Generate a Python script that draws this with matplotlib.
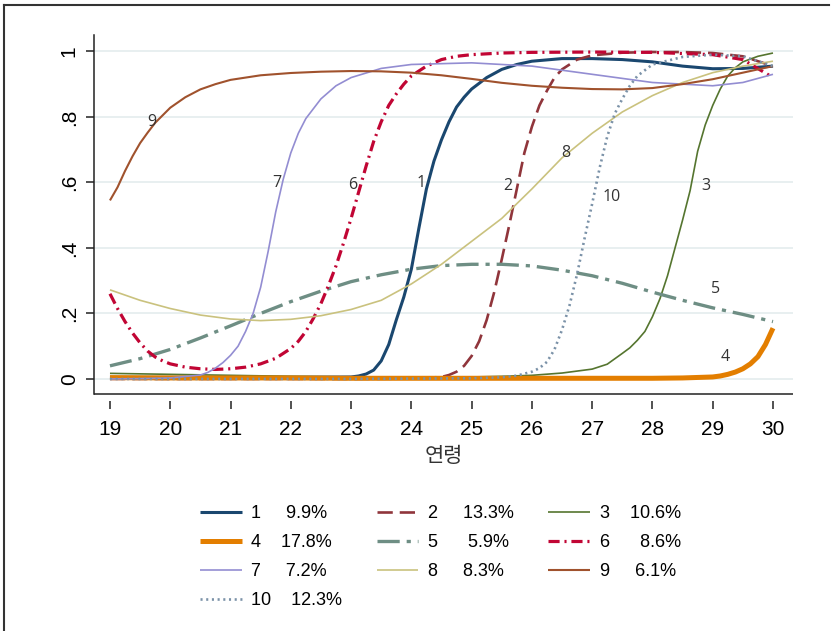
import matplotlib
matplotlib.use("Agg")
import matplotlib.pyplot as plt
from matplotlib.lines import Line2D

plt.rcParams['lines.scale_dashes'] = False

# class number, share (%) and data for each trajectory curve
classes = ["1", "2", "3", "4", "5", "6", "7", "8", "9", "10"]
shares = ["9.9%", "13.3%", "10.6%", "17.8%", "5.9%", "8.6%", "7.2%", "8.3%", "6.1%", "12.3%"]
label_gaps = [5, 5, 4, 4, 6, 6, 5, 5, 5, 4]

ages1 = [19, 20, 21, 22, 23, 23.125, 23.25, 23.375, 23.5, 23.625, 23.75, 23.875, 24, 24.125,
         24.25, 24.375, 24.5, 24.625, 24.75, 24.875, 25, 25.25, 25.5, 25.75, 26, 26.5, 27, 27.5,
         28, 28.5, 29, 29.5, 30]
prob1 = [0.005, 0.005, 0.005, 0.005, 0.006, 0.009, 0.015, 0.027, 0.055, 0.105, 0.18, 0.25, 0.335, 0.46,
         0.58, 0.665, 0.73, 0.785, 0.83, 0.86, 0.885, 0.92, 0.945, 0.96, 0.97, 0.978, 0.978, 0.975,
         0.968, 0.955, 0.947, 0.948, 0.955]

ages2 = [19, 20, 21, 22, 23, 24, 24.5, 24.625, 24.75, 24.875, 25, 25.125, 25.25, 25.375, 25.5,
         25.625, 25.75, 25.875, 26, 26.125, 26.25, 26.375, 26.5, 26.75, 27, 27.5, 28, 28.5, 29,
         29.5, 30]
prob2 = [0.0, 0.0, 0.0, 0.0, 0.0, 0.001, 0.006, 0.012, 0.022, 0.04, 0.07, 0.115, 0.18, 0.265, 0.365,
         0.47, 0.58, 0.69, 0.77, 0.835, 0.88, 0.92, 0.945, 0.975, 0.988, 0.996, 0.998, 0.998, 0.995,
         0.985, 0.955]

ages3 = [19, 20, 21, 22, 23, 24, 25, 25.5, 26, 26.5, 27, 27.25, 27.5, 27.625, 27.75, 27.875, 28,
         28.125, 28.25, 28.375, 28.5, 28.625, 28.75, 28.875, 29, 29.125, 29.25, 29.375, 29.5,
         29.75, 30]
prob3 = [0.017, 0.014, 0.011, 0.008, 0.006, 0.005, 0.006, 0.008, 0.011, 0.018, 0.03, 0.045, 0.078, 0.095,
         0.118, 0.145, 0.19, 0.245, 0.315, 0.4, 0.485, 0.575, 0.695, 0.775, 0.835, 0.885, 0.925, 0.95,
         0.968, 0.985, 0.995]

ages4 = [19, 20, 21, 22, 23, 24, 25, 26, 27, 28, 28.5, 29, 29.125, 29.25, 29.375, 29.5, 29.625,
         29.75, 29.875, 30]
prob4 = [0.004, 0.003, 0.003, 0.003, 0.002, 0.002, 0.002, 0.002, 0.002, 0.002, 0.003, 0.006, 0.009,
         0.014, 0.021, 0.031, 0.046, 0.068, 0.105, 0.155]

ages5 = [19, 19.5, 20, 20.5, 21, 21.5, 22, 22.5, 23, 23.5, 24, 24.5, 25, 25.5, 26, 26.5, 27,
         27.5, 28, 28.5, 29, 29.5, 30]
prob5 = [0.04, 0.062, 0.09, 0.125, 0.162, 0.2, 0.236, 0.268, 0.297, 0.318, 0.335, 0.346, 0.35, 0.35,
         0.345, 0.332, 0.315, 0.292, 0.265, 0.24, 0.217, 0.197, 0.175]

ages6 = [19, 19.125, 19.25, 19.375, 19.5, 19.625, 19.75, 19.875, 20, 20.25, 20.5, 20.75, 21,
         21.25, 21.5, 21.75, 22, 22.125, 22.25, 22.375, 22.5, 22.625, 22.75, 22.875, 23, 23.125,
         23.25, 23.375, 23.5, 23.625, 23.75, 23.875, 24, 24.25, 24.5, 24.75, 25, 25.5, 26, 27, 28,
         29, 29.5, 30]
prob6 = [0.26, 0.215, 0.175, 0.14, 0.11, 0.085, 0.067, 0.055, 0.046, 0.036, 0.031, 0.029, 0.031,
         0.036, 0.046, 0.063, 0.093, 0.115, 0.145, 0.185, 0.23, 0.285, 0.345, 0.415, 0.49, 0.57,
         0.65, 0.725, 0.785, 0.835, 0.87, 0.9, 0.925, 0.955, 0.975, 0.985, 0.99, 0.995, 0.997, 0.998,
         0.997, 0.99, 0.975, 0.92]

ages7 = [19, 19.5, 20, 20.5, 20.625, 20.75, 20.875, 21, 21.125, 21.25, 21.375, 21.5, 21.625,
         21.75, 21.875, 22, 22.125, 22.25, 22.5, 22.75, 23, 23.5, 24, 25, 26, 27, 28, 29, 29.5, 30]
prob7 = [0.0, 0.001, 0.003, 0.012, 0.02, 0.033, 0.05, 0.072, 0.1, 0.145, 0.2, 0.28, 0.39, 0.51,
         0.61, 0.69, 0.75, 0.795, 0.855, 0.895, 0.92, 0.948, 0.96, 0.965, 0.955, 0.93, 0.905, 0.895,
         0.905, 0.93]

ages8 = [19, 19.5, 20, 20.5, 21, 21.5, 22, 22.5, 23, 23.5, 24, 24.5, 25, 25.5, 26, 26.5, 27,
         27.5, 28, 28.5, 29, 29.5, 30]
prob8 = [0.272, 0.24, 0.215, 0.195, 0.183, 0.178, 0.182, 0.193, 0.212, 0.24, 0.29, 0.35, 0.42, 0.49,
         0.58, 0.675, 0.75, 0.815, 0.865, 0.905, 0.935, 0.955, 0.97]

ages9 = [19, 19.125, 19.25, 19.375, 19.5, 19.625, 19.75, 19.875, 20, 20.25, 20.5, 20.75, 21,
         21.5, 22, 22.5, 23, 23.5, 24, 24.5, 25, 25.5, 26, 26.5, 27, 27.5, 28, 28.5, 29, 29.5, 30]
prob9 = [0.545, 0.585, 0.635, 0.68, 0.72, 0.752, 0.782, 0.805, 0.828, 0.86, 0.884, 0.9, 0.913, 0.927,
         0.934, 0.938, 0.94, 0.939, 0.935, 0.927, 0.916, 0.904, 0.895, 0.889, 0.885, 0.884, 0.888,
         0.9, 0.915, 0.935, 0.955]

ages10 = [19, 20, 21, 22, 23, 24, 25, 25.5, 25.75, 26, 26.125, 26.25, 26.375, 26.5, 26.625,
          26.75, 26.875, 27, 27.125, 27.25, 27.375, 27.5, 27.625, 27.75, 28, 28.5, 29, 29.5, 30]
prob10 = [0.0, 0.0, 0.0, 0.0, 0.0, 0.001, 0.002, 0.005, 0.01, 0.022, 0.033, 0.052, 0.09, 0.15, 0.225,
          0.32, 0.43, 0.535, 0.645, 0.74, 0.81, 0.855, 0.895, 0.925, 0.96, 0.983, 0.99, 0.985, 0.955]

# where the class number is written next to each curve
label_ages = [24.16, 25.60, 28.89, 29.20, 29.04, 23.03, 21.77, 26.57, 19.70, 27.33]
label_probs = [0.598, 0.589, 0.589, 0.067, 0.275, 0.592, 0.598, 0.69, 0.785, 0.556]

xticks = list(range(19, 31))
yticks = [0, 0.2, 0.4, 0.6, 0.8, 1]
ytick_labels = ["0", ".2", ".4", ".6", ".8", "1"]

all_ages = [ages1, ages2, ages3, ages4, ages5, ages6, ages7, ages8, ages9, ages10]
all_probs = [prob1, prob2, prob3, prob4, prob5, prob6, prob7, prob8, prob9, prob10]

colors = ["#1A476F", "#90353B", "#55752F", "#E37E00", "#6E8E84",
          "#C10534", "#938DD2", "#CAC27E", "#A0522D", "#7B92A8"]
widths = [2.2, 1.9, 1.2, 3.6, 2.4, 2.3, 1.2, 1.2, 1.5, 1.9]
styles = ["-", (0, (11, 5)), "-", "-", (0, (16, 5, 3, 5)),
          (0, (8, 3.5, 1.5, 3.5)), "-", "-", "-", (0, (1.5, 2.6))]

fig = plt.figure(figsize=(8.31, 6.31), dpi=100)
ax = fig.add_axes([94 / 831, 1 - 394 / 631, 699 / 831, 359 / 631])

# stata-style x axis: line at the plot edge, ticks a few pixels below it
# (moving the spine resets the ticks, so do it before styling them)
ax.spines["bottom"].set_position(("outward", 5))
ax.spines["bottom"].set_visible(False)
for s in ["top", "right"]:
    ax.spines[s].set_visible(False)
ax.spines["left"].set_color("#222222")
ax.spines["left"].set_linewidth(1.1)

handles = []
for i in range(10):
    ln, = ax.plot(all_ages[i], all_probs[i], color=colors[i], lw=widths[i], linestyle=styles[i],
                  solid_capstyle="butt", dash_capstyle="butt", solid_joinstyle="round")
    handles.append(ln)
    ax.text(label_ages[i], label_probs[i], classes[i], ha="center", va="center",
            fontsize=11.5, family="Open Sans", color="#333333")

ax.set_xlim(18.735, 30.332)
ax.set_ylim(-0.046, 1.050)
ax.plot([18.735, 30.332], [-0.046, -0.046], color="#222222", lw=1.1, clip_on=False, solid_capstyle="butt")

ax.set_xticks(xticks)
ax.set_xticklabels([str(t) for t in xticks], family="Liberation Sans", fontsize=15)
ax.set_yticks(yticks)
ax.set_yticklabels(ytick_labels, rotation=90, va="center", family="Liberation Sans", fontsize=15)
ax.tick_params(axis="x", length=6, width=1.1, color="#222222", pad=8)
ax.tick_params(axis="y", length=6, width=1.1, color="#222222", pad=5)
ax.yaxis.grid(True, color="#E4ECEE", lw=1.2)
ax.set_axisbelow(True)

ax.set_xlabel("연령", family=["Noto Sans CJK KR", "DejaVu Sans"], fontsize=15, color="#333333",
              labelpad=4)

# legend in stata row order: 1 2 3 / 4 5 6 / 7 8 9 / 10
order = [0, 3, 6, 9, 1, 4, 7, 2, 5, 8]
leg_labels = [classes[i] + " " * label_gaps[i] + shares[i] for i in range(10)]
fig.legend([handles[i] for i in order], [leg_labels[i] for i in order],
           loc="upper left", bbox_to_anchor=(200 / 831, 1 - 505 / 631), ncol=3,
           frameon=False, borderpad=0, borderaxespad=0, handlelength=2.3, handletextpad=0.55,
           columnspacing=1.9, labelspacing=0.67, prop={"family": "Liberation Sans", "size": 13})

# outer frame of the graph
fig.add_artist(Line2D([4 / 831, 4 / 831], [0, 1 - 5 / 631], color="#333333", lw=1.5))
fig.add_artist(Line2D([4 / 831, 829 / 831], [1 - 5 / 631, 1 - 5 / 631], color="#333333", lw=1.5))

fig.savefig("out.png", dpi=100)
